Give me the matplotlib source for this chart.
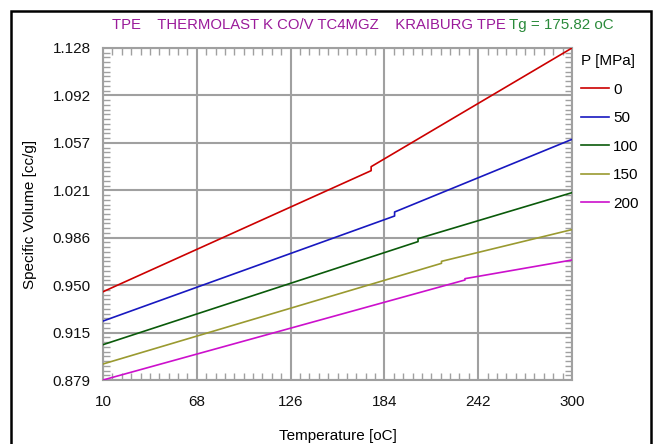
import numpy as np
import matplotlib
matplotlib.use("Agg")
import matplotlib.pyplot as plt
from matplotlib.ticker import AutoMinorLocator, FixedLocator
from matplotlib.patches import Rectangle

plt.rcParams['font.family'] = ['Liberation Sans', 'DejaVu Sans']

# ---- data ----
pressures = ["0", "50", "100", "150", "200"]
temps_0 = [10, 175.8, 175.8, 300]
vol_0 = [0.9452, 1.0360, 1.0390, 1.1280]
temps_50 = [10, 190.3, 190.3, 300]
vol_50 = [0.9232, 1.0020, 1.0050, 1.0595]
temps_100 = [10, 204.8, 204.8, 300]
vol_100 = [0.9055, 0.9828, 0.9850, 1.0195]
temps_150 = [10, 219.3, 219.3, 300]
vol_150 = [0.8910, 0.9665, 0.9680, 0.9918]
temps_200 = [10, 233.8, 233.8, 300]
vol_200 = [0.8790, 0.9540, 0.9550, 0.9690]
colors = ['#cc0000', '#1818c0', '#0a5a0a', '#9a9a30', '#cc10cc']

x_ticks = [10, 68, 126, 184, 242, 300]
y_min, y_max = 0.879, 1.128

series_t = [temps_0, temps_50, temps_100, temps_150, temps_200]
series_v = [vol_0, vol_50, vol_100, vol_150, vol_200]

fig = plt.figure(figsize=(6.59, 4.44), dpi=100)
fig.patches.append(Rectangle((11/659, -0.05), 640/659, 1 - 11/444 + 0.05,
                             transform=fig.transFigure, fill=False,
                             edgecolor='black', linewidth=1.8, zorder=0))

ax = fig.add_axes([103/659, 1 - 380/444, 469/659, 332/444])
grey = '#a0a0a0'
lines = []
for t, v, c, p in zip(series_t, series_v, colors, pressures):
    ln, = ax.plot(t, v, color=c, linewidth=1.2, label=p, zorder=3)
    lines.append(ln)

ax.set_xlim(10, 300)
ax.set_ylim(y_min, y_max)
ax.xaxis.set_major_locator(FixedLocator(x_ticks))
y_ticks = np.linspace(y_min, y_max, 8)
ax.yaxis.set_major_locator(FixedLocator(y_ticks))
ax.set_yticklabels([f"{v:.3f}" for v in y_ticks])
ax.set_xticklabels([str(v) for v in x_ticks])
ax.xaxis.set_minor_locator(AutoMinorLocator(10))
ax.yaxis.set_minor_locator(AutoMinorLocator(10))
ax.grid(True, which='major', color=grey, linewidth=1.5, zorder=1)
ax.tick_params(which='both', direction='in', top=True, right=True, color=grey)
ax.tick_params(which='major', length=0, labelsize=11, labelcolor='#111111')
ax.tick_params(axis='x', which='major', pad=10.5)
ax.tick_params(axis='y', which='major', pad=9)
ax.tick_params(which='minor', length=5, width=1)
for s in ax.spines.values():
    s.set_color(grey)
    s.set_linewidth(1.5)

ax.set_xlabel("Temperature [oC]", fontsize=11, labelpad=15)
ax.set_ylabel("Specific Volume [cc/g]", fontsize=11, labelpad=11)

fig.text(112/659, 1 - 25/444,
         "TPE    THERMOLAST K CO/V TC4MGZ    KRAIBURG TPE",
         color='#9a1a9a', fontsize=10.7, va='center', ha='left')
fig.text(509/659, 1 - 25/444, "Tg = 175.82 oC", color='#2a8a3a',
         fontsize=10.9, va='center', ha='left')

leg = fig.legend(handles=lines, labels=pressures, title="P [MPa]",
                 loc='upper left', bbox_to_anchor=(569/659, 1 - 42/444),
                 frameon=False, fontsize=11, title_fontsize=11,
                 handlelength=1.85, handletextpad=0.25, labelspacing=0.95,
                 borderpad=0.3)
leg._legend_box.align = "left"

fig.savefig("out.png", dpi=100)
